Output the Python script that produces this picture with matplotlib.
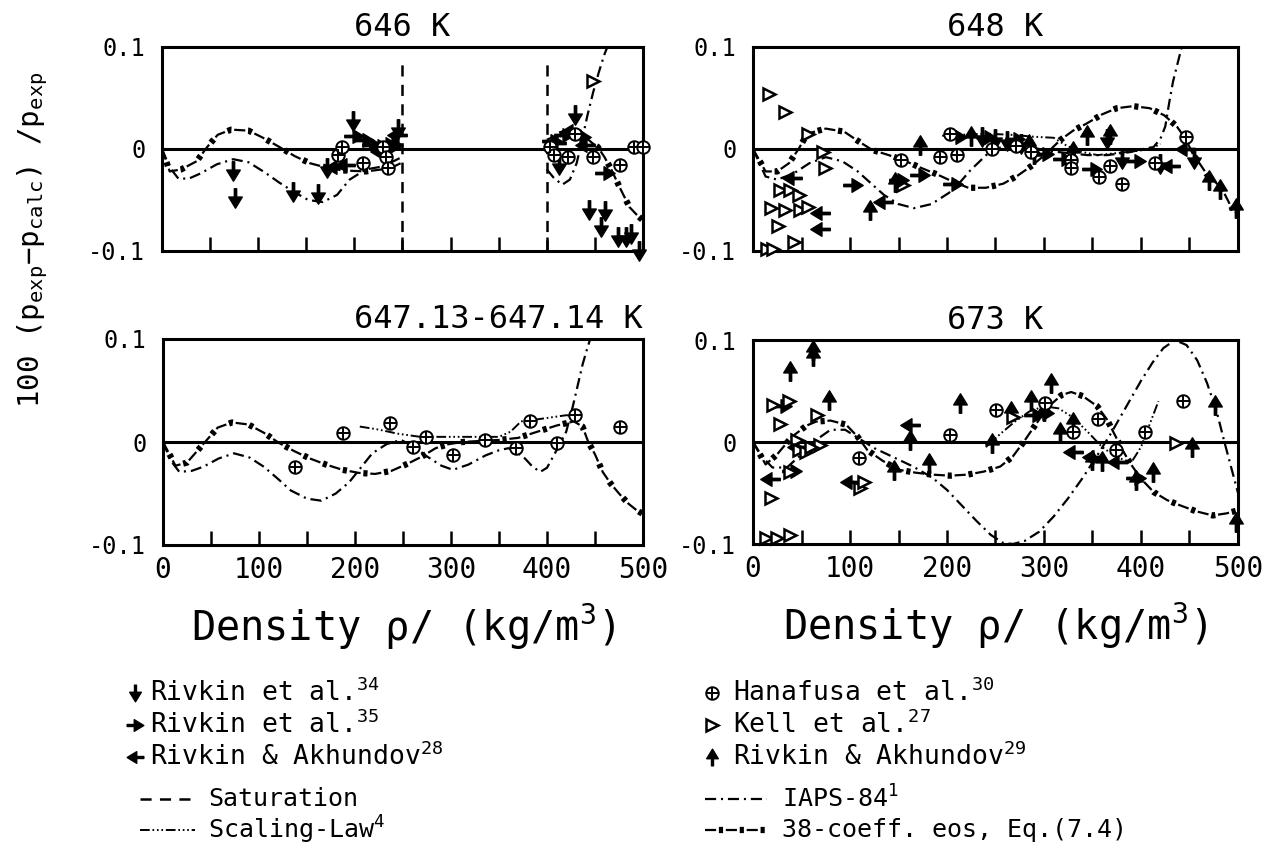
import numpy as np
import matplotlib
matplotlib.use("Agg")
import matplotlib.pyplot as plt
from matplotlib.path import Path

plt.rcParams['font.family'] = ['DejaVu Sans Mono']
plt.rcParams['mathtext.fontset'] = 'custom'
plt.rcParams['mathtext.rm'] = 'DejaVu Sans Mono'
plt.rcParams['mathtext.it'] = 'DejaVu Sans Mono'
plt.rcParams['axes.unicode_minus'] = False
plt.rcParams['lines.scale_dashes'] = False

# ---------------- data: 646 K ----------------
iaps_646a_x = [0, 8, 17, 28, 40, 57, 74, 90, 107, 122, 137, 152, 167, 182, 195, 212, 230, 247]
iaps_646a_y = [0, -0.018, -0.029, -0.029, -0.024, -0.015, -0.010, -0.013, -0.023, -0.033, -0.042,
               -0.050, -0.052, -0.045, -0.030, -0.020, -0.017, -0.009]
iaps_646b_x = [400, 407, 416, 424, 431, 437, 442, 448, 454, 460, 463]
iaps_646b_y = [-0.020, -0.028, -0.035, -0.030, -0.014, 0.010, 0.032, 0.055, 0.075, 0.093, 0.100]
eos_646a_x = [0, 8, 20, 36, 47, 58, 72, 90, 105, 122, 138, 154, 170, 188, 212, 237, 248]
eos_646a_y = [0, -0.022, -0.020, -0.012, 0.002, 0.014, 0.019, 0.018, 0.011, 0.002, -0.007,
              -0.014, -0.018, -0.021, -0.022, -0.019, -0.014]
eos_646b_x = [400, 412, 424, 435, 441, 447, 453, 460, 467, 477, 486, 494, 500]
eos_646b_y = [0.009, 0.014, 0.017, 0.015, 0.011, 0.006, 0.002, -0.008, -0.020, -0.040, -0.057, -0.065, -0.070]
sat_646 = [250, 400]

r34_646_x = [74, 76, 136, 162, 171, 199, 245, 413, 429, 444, 460, 456, 474, 482, 488, 496]
r34_646_y = [-0.022, -0.048, -0.042, -0.044, -0.019, 0.027, 0.020, -0.016, 0.033, -0.060, -0.061,
             -0.076, -0.086, -0.086, -0.083, -0.100]
r35_646_x = [200, 210, 218, 226, 234, 240, 405, 418, 436, 460]
r35_646_y = [0.013, 0.009, 0.004, 0.003, 0.005, 0.004, 0.008, 0.014, 0.012, -0.024]
r28_646_x = [180, 190, 228, 244, 410, 425, 440]
r28_646_y = [-0.018, -0.016, -0.003, 0.014, 0.006, 0.018, 0.004]
han_646_x = [183, 187, 209, 230, 233, 235, 403, 408, 422, 429, 448, 476, 491, 500]
han_646_y = [-0.006, 0.002, -0.014, 0.002, -0.008, -0.019, 0.002, -0.006, -0.008, 0.015, -0.008,
             -0.016, 0.002, 0.002]
kell_646_x = [448]
kell_646_y = [0.067]

# ---------------- data: 648 K ----------------
eos_648_x = [0, 13, 25, 37, 47, 56, 75, 94, 108, 123, 140, 155, 172, 190, 206, 222, 240, 258, 273,
             288, 303, 317, 330, 344, 360, 375, 392, 409, 424, 437, 446, 454, 461, 468, 476, 483, 492, 500]
eos_648_y = [0, -0.022, -0.022, -0.014, 0.0, 0.015, 0.020, 0.017, 0.008, -0.001, -0.006, -0.011,
             -0.018, -0.025, -0.032, -0.038, -0.038, -0.034, -0.026, -0.016, -0.004, 0.009, 0.018,
             0.025, 0.034, 0.040, 0.042, 0.040, 0.033, 0.022, 0.010, -0.006, -0.015, -0.025, -0.032,
             -0.038, -0.055, -0.065]
iaps_648_x = [0, 13, 25, 42, 58, 75, 92, 108, 122, 135, 150, 166, 184, 202, 214, 224, 236, 247, 265,
              285, 305, 325, 345, 365, 389, 402, 413, 420, 425, 429, 433, 438, 442]
iaps_648_y = [0, -0.027, -0.030, -0.024, -0.014, -0.008, -0.012, -0.022, -0.034, -0.045, -0.054,
              -0.058, -0.054, -0.043, -0.032, -0.021, -0.010, 0.0, 0.003, 0.002, -0.002, -0.004,
              -0.006, -0.006, -0.003, 0.0, 0.002, 0.010, 0.022, 0.045, 0.066, 0.085, 0.100]
scal_648_x = [195, 215, 240, 265, 290, 310, 320, 335, 355, 375, 395, 410, 420]
scal_648_y = [0.013, 0.014, 0.015, 0.014, 0.012, 0.011, 0.005, -0.002, -0.006, -0.004, -0.002, 0.0, 0.005]

kell_648_x = [16, 33, 57, 72, 74, 28, 38, 47, 19, 33, 48, 57, 26, 42, 14, 21, 155]
kell_648_y = [0.054, 0.036, 0.015, -0.003, -0.019, -0.040, -0.040, -0.045, -0.058, -0.060, -0.060,
              -0.057, -0.075, -0.091, -0.098, -0.098, -0.035]
r28_648_x = [69, 69, 134, 40, 430, 445]
r28_648_y = [-0.063, -0.078, -0.052, -0.028, -0.017, 0.0]
r35_648_x = [103, 172, 206, 150, 210, 240, 270, 300, 320, 350, 395]
r35_648_y = [-0.035, -0.025, -0.034, -0.030, 0.012, 0.012, 0.010, -0.005, -0.010, -0.020, -0.012]
r29_648_x = [172, 121, 146, 498, 481, 368, 344, 285, 225, 290, 330, 470]
r29_648_y = [0.004, -0.060, -0.032, -0.058, -0.039, 0.015, 0.0135, 0.005, 0.013, -0.005, -0.002, -0.030]
r34_648_x = [236, 250, 262, 276, 365, 380, 420, 455]
r34_648_y = [0.012, 0.010, 0.008, 0.005, 0.010, -0.010, -0.015, -0.010]
han_648_x = [193, 210, 203, 246, 271, 287, 328, 328, 357, 368, 380, 414, 446, 153]
han_648_y = [-0.008, -0.006, 0.015, 0.0, 0.003, -0.003, -0.011, -0.019, -0.027, -0.017, -0.034,
             -0.014, 0.012, -0.011]

# ---------------- data: 647.13-647.14 K ----------------
iaps_647_x = [0, 8, 17, 30, 42, 58, 74, 90, 105, 120, 133, 150, 165, 180, 194, 206, 218, 233, 248,
              262, 275, 290, 302, 318, 336, 350, 360, 375, 385, 393, 400, 410, 420, 427, 432, 437, 441, 445]
iaps_647_y = [0, -0.018, -0.029, -0.028, -0.024, -0.016, -0.011, -0.015, -0.024, -0.036, -0.047,
              -0.055, -0.057, -0.050, -0.039, -0.025, -0.011, -0.002, 0.002, -0.005, -0.014, -0.023,
              -0.027, -0.022, -0.013, -0.008, -0.006, -0.014, -0.024, -0.029, -0.025, -0.008, 0.010,
              0.035, 0.055, 0.075, 0.088, 0.100]
eos_647_x = [0, 13, 25, 40, 57, 72, 89, 105, 121, 137, 153, 170, 187, 204, 221, 238, 255, 270, 284,
             298, 312, 330, 350, 370, 390, 410, 428, 437, 443, 450, 458, 466, 475, 485, 493, 500]
eos_647_y = [0, -0.023, -0.020, -0.004, 0.014, 0.019, 0.017, 0.009, -0.001, -0.009, -0.016, -0.022,
             -0.027, -0.030, -0.031, -0.028, -0.021, -0.014, -0.006, -0.002, 0.0, 0.001, 0.002,
             0.004, 0.010, 0.016, 0.020, 0.015, 0.0, -0.012, -0.029, -0.040, -0.050, -0.060, -0.066, -0.070]
scal_647_x = [205, 225, 245, 268, 290, 310, 330, 350, 362, 373, 390, 405, 420, 432]
scal_647_y = [0.015, 0.012, 0.008, 0.005, 0.005, 0.005, 0.005, 0.005, 0.010, 0.020, 0.022, 0.024, 0.026, 0.025]
han_647_x = [137, 187, 236, 260, 274, 302, 335, 368, 382, 410, 429, 476]
han_647_y = [-0.024, 0.0085, 0.018, -0.005, 0.005, -0.013, 0.002, -0.006, 0.020, -0.001, 0.026, 0.015]

# ---------------- data: 673 K ----------------
eos_673_x = [0, 13, 25, 40, 55, 65, 80, 96, 108, 118, 133, 149, 167, 185, 203, 221, 238, 255, 268,
             279, 292, 305, 318, 328, 340, 355, 365, 373, 381, 389, 400, 413, 427, 440, 457, 474, 488, 500]
eos_673_y = [0, -0.022, -0.012, 0.005, 0.016, 0.020, 0.021, 0.017, 0.005, -0.008, -0.018, -0.027,
             -0.030, -0.032, -0.033, -0.032, -0.029, -0.024, -0.014, 0.0, 0.018, 0.035, 0.046, 0.049,
             0.045, 0.035, 0.022, 0.007, -0.008, -0.021, -0.036, -0.049, -0.057, -0.062, -0.068,
             -0.072, -0.070, -0.067]
iaps_673_x = [0, 10, 20, 35, 50, 65, 80, 95, 110, 125, 145, 165, 185, 200, 215, 230, 245, 258, 268,
              280, 295, 310, 325, 340, 355, 370, 385, 400, 412, 423, 435, 447, 458, 468, 478, 486, 493, 500]
iaps_673_y = [0, -0.015, -0.025, -0.025, -0.012, 0.002, 0.012, 0.012, 0.003, -0.006, -0.015, -0.024,
              -0.035, -0.047, -0.062, -0.077, -0.091, -0.099, -0.100, -0.097, -0.088, -0.073, -0.055,
              -0.035, -0.013, 0.010, 0.035, 0.060, 0.078, 0.092, 0.100, 0.095, 0.080, 0.058, 0.030,
              0.0, -0.025, -0.050]
scal_673_x = [240, 255, 270, 285, 300, 315, 330, 345, 360, 375, 390, 400, 410, 418]
scal_673_y = [-0.005, 0.008, 0.020, 0.030, 0.035, 0.033, 0.024, 0.010, -0.005, -0.015, -0.020,
              -0.005, 0.020, 0.040]

r29_673_x = [38, 62, 62, 78, 213, 307, 287, 162, 181, 145, 246, 266, 412, 453, 476, 498, 395, 350,
             360, 316, 330, 300]
r29_673_y = [0.070, 0.090, 0.084, 0.041, 0.038, 0.0575, 0.041, 0.002, -0.021, -0.027, -0.001, 0.030,
             -0.029, -0.005, 0.036, -0.078, -0.037, -0.018, -0.019, 0.010, 0.020, 0.030]
r28_673_x = [162, 18, 100, 330, 45, 350, 375]
r28_673_y = [0.017, -0.036, -0.039, -0.010, -0.005, -0.015, -0.020]
kell_673_x = [21, 28, 19, 13, 25, 38, 66, 38, 45, 47, 69, 268, 436, 110, 114, 37, 55, 60]
kell_673_y = [0.036, 0.018, -0.055, -0.094, -0.094, -0.091, 0.026, -0.029, 0.002, -0.008, -0.003,
              0.025, -0.001, -0.045, -0.039, 0.040, -0.010, -0.005]
han_673_x = [251, 109, 203, 301, 356, 330, 404, 443, 374]
han_673_y = [0.031, -0.016, 0.007, 0.038, 0.023, 0.010, 0.010, 0.040, -0.008]
r35_673_x = [30, 40, 290, 300, 395]
r35_673_y = [0.035, -0.028, 0.026, 0.028, -0.035]

xticks = [0, 100, 200, 300, 400, 500]
yticks = [-0.1, 0, 0.1]
ytick_labels = ['-0.1', '0', '0.1']


# ---------------- markers and line styles ----------------
def arrow(direction):
    v = np.array([(-0.12, 1.0), (0.12, 1.0), (0.12, 0.15), (0.7, 0.15), (0.0, -1.0),
                  (-0.7, 0.15), (-0.12, 0.15), (-0.12, 1.0)])
    ang = {'down': 0, 'right': np.pi / 2, 'up': np.pi, 'left': -np.pi / 2}[direction]
    c, s = np.cos(ang), np.sin(ang)
    v = v @ np.array([[c, s], [-s, c]])
    codes = [Path.MOVETO] + [Path.LINETO] * 6 + [Path.CLOSEPOLY]
    return Path(v, codes)


M_DOWN, M_RIGHT, M_LEFT, M_UP = arrow('down'), arrow('right'), arrow('left'), arrow('up')
IAPS_LS = (0, (8, 3.5, 1.5, 3.5))
SCAL_LS = (0, (7, 2, 1.2, 2, 1.2, 2, 1.2, 2))


def arrows(ax, x, y, m, ms=14):
    ax.plot(x, y, ls='none', marker=m, ms=ms, color='k', clip_on=False, zorder=4)


def oplus(ax, x, y):
    ax.plot(x, y, ls='none', marker='o', ms=9, mfc='white', mec='k', mew=1.4, clip_on=False, zorder=4)
    ax.plot(x, y, ls='none', marker='+', ms=9, color='k', mew=1.4, clip_on=False, zorder=5)


def kell(ax, x, y):
    ax.plot(x, y, ls='none', marker='>', ms=9, mfc='white', mec='k', mew=1.8, clip_on=False, zorder=4)


def iaps(ax, x, y):
    ax.plot(x, y, color='k', lw=1.6, ls=IAPS_LS, zorder=3)


def scal(ax, x, y):
    ax.plot(x, y, color='k', lw=1.4, ls=SCAL_LS, zorder=3)


def eos(ax, x, y):
    ax.plot(x, y, color='k', lw=1.6, ls=(0, (8, 7)), zorder=3)
    ax.plot(x, y, color='k', lw=4.5, ls=(5, (3, 12)), zorder=3)


# ---------------- figure ----------------
fig = plt.figure(figsize=(12.64, 8.49), dpi=100)
W, H = 1264, 849


def px_axes(x0, y0, x1, y1):
    return fig.add_axes([x0 / W, 1 - y1 / H, (x1 - x0) / W, (y1 - y0) / H])


ax646 = px_axes(162, 47, 643, 251)
ax648 = px_axes(753, 47, 1238, 251)
ax647 = px_axes(163, 339, 643, 545)
ax673 = px_axes(753, 340, 1238, 544)

for ax in (ax646, ax648, ax647, ax673):
    ax.set_xlim(0, 500)
    ax.set_ylim(-0.1, 0.1)
    ax.axhline(0, color='k', lw=2.2, zorder=2)
    for s in ax.spines.values():
        s.set_linewidth(2.2)
    ax.set_xticks(xticks)
    ax.set_xticks(np.arange(50, 500, 100), minor=True)
    ax.tick_params(axis='x', which='both', direction='in', length=10, width=1.8, labelsize=20, pad=8)
    ax.set_yticks(yticks)
    ax.set_yticklabels(ytick_labels)
    ax.tick_params(axis='y', length=0, labelsize=17, pad=12)

for ax in (ax646, ax648):
    ax.tick_params(axis='x', labelbottom=False)

# 646 K
for r in sat_646:
    ax646.axvline(r, ymin=0, ymax=0.92, color='k', lw=1.8, ls=(0, (8, 6)), zorder=2)
iaps(ax646, iaps_646a_x, iaps_646a_y)
iaps(ax646, iaps_646b_x, iaps_646b_y)
eos(ax646, eos_646a_x, eos_646a_y)
eos(ax646, eos_646b_x, eos_646b_y)
arrows(ax646, r34_646_x, r34_646_y, M_DOWN)
arrows(ax646, r35_646_x, r35_646_y, M_RIGHT)
arrows(ax646, r28_646_x, r28_646_y, M_LEFT)
oplus(ax646, han_646_x, han_646_y)
kell(ax646, kell_646_x, kell_646_y)
ax646.set_title('646 K', fontsize=23, pad=8)

# 648 K
iaps(ax648, iaps_648_x, iaps_648_y)
eos(ax648, eos_648_x, eos_648_y)
scal(ax648, scal_648_x, scal_648_y)
kell(ax648, kell_648_x, kell_648_y)
arrows(ax648, r28_648_x, r28_648_y, M_LEFT)
arrows(ax648, r35_648_x, r35_648_y, M_RIGHT)
arrows(ax648, r29_648_x, r29_648_y, M_UP)
arrows(ax648, r34_648_x, r34_648_y, M_DOWN)
oplus(ax648, han_648_x, han_648_y)
ax648.set_title('648 K', fontsize=23, pad=8)

# 647.13-647.14 K
iaps(ax647, iaps_647_x, iaps_647_y)
eos(ax647, eos_647_x, eos_647_y)
scal(ax647, scal_647_x, scal_647_y)
oplus(ax647, han_647_x, han_647_y)
ax647.set_title('647.13-647.14 K', fontsize=23, pad=8, loc='right')

# 673 K
iaps(ax673, iaps_673_x, iaps_673_y)
eos(ax673, eos_673_x, eos_673_y)
scal(ax673, scal_673_x, scal_673_y)
arrows(ax673, r29_673_x, r29_673_y, M_UP)
arrows(ax673, r28_673_x, r28_673_y, M_LEFT)
arrows(ax673, r35_673_x, r35_673_y, M_RIGHT)
kell(ax673, kell_673_x, kell_673_y)
oplus(ax673, han_673_x, han_673_y)
ax673.set_title('673 K', fontsize=23, pad=8)

for ax in (ax647, ax673):
    ax.set_xlabel(r'Density $\rho$/ (kg/m$^3$)', fontsize=29, labelpad=12)

fig.text(33 / W, 1 - 240 / H,
         r'100 (p$_{\rm exp}$$-$p$_{\rm calc}$) /p$_{\rm exp}$',
         rotation=90, ha='center', va='center', fontsize=21)

# ---------------- legend ----------------
lg = fig.add_axes([0, 0, 1, 1])
lg.set_xlim(0, W)
lg.set_ylim(H, 0)
lg.axis('off')

FS = 19
FS2 = 18
left_rows = [(M_DOWN, r'Rivkin et al.$^{34}$', 693),
             (M_RIGHT, r'Rivkin et al.$^{35}$', 725),
             (M_LEFT, r'Rivkin & Akhundov$^{28}$', 757)]
for m, t, yy in left_rows:
    arrows(lg, [135], [yy], m, ms=12)
    lg.text(150, yy, t, fontsize=FS, va='center', ha='left')

right_rows = [('han', r'Hanafusa et al.$^{30}$', 693),
              ('kell', r'Kell et al.$^{27}$', 725),
              (M_UP, r'Rivkin & Akhundov$^{29}$', 757)]
for m, t, yy in right_rows:
    if m == 'han':
        oplus(lg, [712], [yy])
    elif m == 'kell':
        kell(lg, [712], [yy])
    else:
        arrows(lg, [712], [yy], m, ms=12)
    lg.text(733, yy, t, fontsize=FS, va='center', ha='left')

lg.plot([140, 195], [799, 799], color='k', lw=1.8, ls=(0, (8, 6)))
lg.text(208, 799, 'Saturation', fontsize=FS2, va='center')
scal(lg, [140, 195], [830, 830])
lg.text(208, 830, r'Scaling-Law$^{4}$', fontsize=FS2, va='center')
iaps(lg, [705, 767], [799, 799])
lg.text(782, 799, r'IAPS-84$^{1}$', fontsize=FS2, va='center')
eos(lg, [705, 767], [830, 830])
lg.text(782, 830, '38-coeff. eos, Eq.(7.4)', fontsize=FS2, va='center')

fig.savefig('out.png', dpi=100)
